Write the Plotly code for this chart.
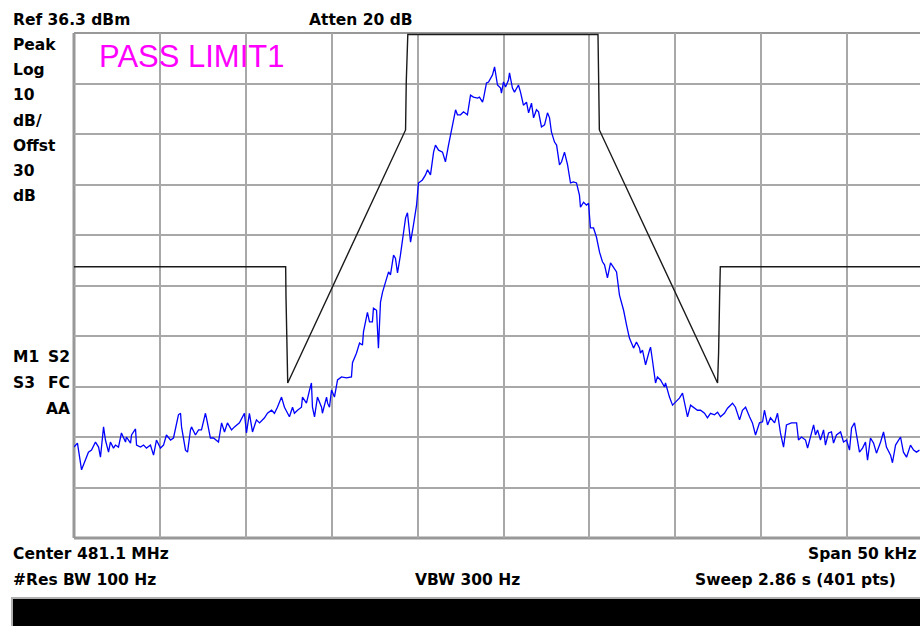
import plotly.graph_objects as go

# ---- Data (offset from centre 481.1 MHz, kHz ; level dBm) ----
trace_freq = [
    -25.00, -24.80, -24.56, -24.33, -24.16, -23.98, -23.75, -23.57, -23.46, -23.28,
    -23.17, -22.99, -22.88, -22.70, -22.59, -22.41, -22.24, -22.00, -21.95, -21.71,
    -21.65, -21.42, -21.36, -21.13, -20.95, -20.78, -20.55, -20.37, -20.20, -19.97,
    -19.79, -19.62, -19.38, -19.21, -19.09, -18.92, -18.80, -18.74, -18.51, -18.39,
    -18.22, -18.16, -17.93, -17.75, -17.58, -17.35, -17.29, -17.06, -16.88,
    -16.59, -16.41, -16.24, -16.07, -15.83, -15.66, -15.37, -15.08, -14.96, -14.79,
    -14.61, -14.38, -14.20, -13.91, -13.74, -13.50, -13.33, -13.16, -12.92, -12.75,
    -12.57, -12.46, -12.28, -12.17, -11.99, -11.76, -11.70, -11.47, -11.29, -11.18,
    -11.12, -11.00, -10.83, -10.59, -10.54, -10.30, -10.24, -10.13, -10.01, -9.84,
    -9.66, -9.43, -9.14, -8.85, -8.79, -8.56, -8.38,
    -8.21, -8.15, -7.92, -7.80, -7.63, -7.57, -7.39, -7.28, -7.16, -7.04,
    -6.87, -6.69, -6.58, -6.40, -6.29, -6.17, -6.00, -5.88, -5.70, -5.59,
    -5.53, -5.41, -5.24, -5.06, -4.95, -4.72, -4.54, -4.42, -4.25, -4.07,
    -3.96, -3.78, -3.55, -3.38, -3.20, -2.97, -2.79, -2.68, -2.50, -2.33,
    -2.10, -1.92, -1.75, -1.51, -1.40, -1.22, -1.16, -0.99, -0.87, -0.64,
    -0.52, -0.35, -0.17, -0.12,
    0.00, 0.12, 0.29, 0.35, 0.52, 0.64, 0.87, 0.99, 1.16, 1.34,
    1.46, 1.63, 1.75, 1.92, 2.04, 2.21, 2.39, 2.56, 2.68, 2.79,
    2.97, 3.09, 3.26, 3.38, 3.55, 3.73, 3.90, 4.07, 4.25, 4.42,
    4.48, 4.66, 4.83, 4.95, 5.06, 5.24, 5.41, 5.59, 5.76, 5.88,
    6.05, 6.23, 6.40, 6.58, 6.75, 6.99, 7.16, 7.33, 7.57, 7.74, 7.92,
    7.97, 8.09, 8.27, 8.50, 8.56, 8.67, 8.85, 8.96, 9.14, 9.37,
    9.43, 9.66, 9.84, 10.01, 10.24, 10.42, 10.54, 10.71, 10.89, 11.12,
    11.29, 11.47, 11.70, 11.87, 12.05, 12.28, 12.46, 12.63, 12.86, 13.04,
    13.33, 13.50, 13.74, 13.91, 14.09, 14.32, 14.49, 14.67, 14.90, 15.08,
    15.19, 15.37, 15.54, 15.78, 15.95, 16.12,
    16.18, 16.30, 16.47, 16.76, 17.06, 17.17, 17.35, 17.58, 17.70, 17.87,
    18.05, 18.16, 18.28, 18.45, 18.63, 18.74, 18.92, 19.09, 19.21, 19.38,
    19.62, 19.79, 19.97, 20.14, 20.26, 20.43, 20.55, 20.72, 20.90, 21.07,
    21.19, 21.36, 21.54, 21.71, 21.95, 22.12, 22.29, 22.53, 22.64, 22.82,
    23.11, 23.28, 23.46, 23.69, 23.87, 24.04, 24.21,
]
trace_level = [
    -45.7, -44.9, -50.2, -48.3, -46.7, -46.3, -44.7, -45.7, -47.7, -41.7,
    -44.3, -46.7, -44.7, -45.9, -45.3, -45.7, -42.9, -44.7, -43.7, -44.9,
    -43.3, -42.1, -45.3, -45.7, -45.3, -45.9, -45.3, -47.3, -44.3, -45.9,
    -45.3, -43.3, -44.3, -43.9, -41.9, -39.3, -39.0, -41.7, -46.3, -46.7,
    -42.3, -41.7, -43.3, -42.3, -42.3, -39.0, -39.9, -43.9, -43.9,
    -44.7, -40.9, -42.7, -40.9, -42.3, -41.7, -40.9, -39.0, -42.9, -39.0,
    -42.7, -40.3, -40.9, -39.9, -39.0, -38.4, -39.0, -37.8, -35.8, -37.8,
    -39.0, -39.7, -37.8, -39.0, -38.4, -37.8, -35.8, -37.0, -34.4, -33.0,
    -37.8, -39.7, -35.8, -37.8, -39.0, -35.8, -37.0, -37.8, -34.4, -35.8,
    -32.4, -31.8, -32.0, -31.8, -29.0, -27.1, -25.1,
    -25.5, -22.9, -19.0, -20.9, -20.9, -18.2, -18.6, -26.1, -17.0, -15.0,
    -13.0, -11.0, -11.6, -7.7, -8.3, -11.2, -7.7, -5.1, -0.3, 0.7,
    -1.7, -5.1, -1.7, 2.2, 6.6, 7.2, 8.2, 9.2, 8.2, 12.7,
    14.1, 13.1, 12.7, 10.8, 14.1, 17.7, 21.1, 20.1, 20.1, 20.7,
    20.1, 24.0, 23.6, 23.4, 23.6, 22.6, 23.4, 26.4, 26.6, 28.0,
    29.6, 26.0, 25.4, 24.4,
    26.6, 25.6, 27.0, 28.4, 25.4, 24.6, 26.0, 24.6, 22.0, 22.6,
    20.5, 22.4, 19.5, 21.1, 20.7, 17.7, 18.1, 20.5, 19.5, 16.7,
    14.7, 14.1, 10.2, 10.8, 12.7, 10.2, 6.6, 6.8, 6.6, 4.2,
    1.8, 2.8, 2.2, 2.6, -2.3, -2.3, -4.1, -7.1, -9.0, -9.6,
    -12.2, -9.2, -10.2, -11.0, -15.6, -18.6, -21.5, -24.1, -26.1, -24.9, -26.1,
    -27.1, -26.5, -29.4, -26.5, -25.9, -28.5, -33.0, -31.8, -32.4, -33.8,
    -33.0, -35.8, -37.4, -36.8, -36.0, -35.0, -37.0, -39.7, -37.4, -38.0,
    -38.4, -38.4, -39.0, -39.9, -39.0, -39.3, -38.8, -39.7, -39.0, -38.0,
    -37.0, -37.8, -40.3, -38.4, -37.8, -39.7, -40.9, -43.3, -40.9, -40.7,
    -38.4, -41.3, -39.9, -40.9, -39.0, -42.9,
    -43.7, -45.7, -41.3, -40.9, -40.9, -44.3, -43.7, -44.3, -45.9, -43.7,
    -41.3, -43.3, -42.3, -44.3, -42.3, -45.3, -42.9, -42.7, -44.9, -43.3,
    -42.7, -44.7, -44.3, -46.3, -41.9, -40.9, -43.7, -46.7, -45.9, -44.7,
    -48.3, -43.9, -44.9, -46.9, -44.7, -42.7, -45.7, -47.3, -48.8, -45.3,
    -43.7, -46.7, -47.7, -45.3, -46.3, -46.7, -46.3,
]

limit_freq = [-25, -12.68, -12.66, -12.62, -12.56, -5.70, -5.66, -5.57,
              5.50, 5.54, 5.58, 12.46, 12.52, 12.58, 12.62, 25]
limit_level = [-10, -10, -16.0, -27.1, -33.0, 17.1, 26.6, 36.0,
               36.0, 26.6, 17.1, -33.0, -27.1, -16.0, -10, -10]

ref_level = 36.3
db_per_div = 10
span_khz = 50

left_labels = ["Peak", "Log", "10", "dB/", "Offst", "30", "dB"]

# ---- Layout geometry (page pixels) ----
W, H = 920, 626
L, T, B = 74, 33, 538
PW, PH = W - L, B - T
div_px = 85.9
x_max = -span_khz / 2 + PW / div_px * (span_khz / 10)


def px(p):
    return (p - L) / PW


def py(p):
    return (B - p) / PH


fig = go.Figure()
fig.add_trace(go.Scatter(x=limit_freq, y=limit_level, mode="lines",
                         line=dict(color="#1a1a1a", width=1.4), hoverinfo="skip"))
fig.add_trace(go.Scatter(x=trace_freq, y=trace_level, mode="lines",
                         line=dict(color="#0000ff", width=1.3), hoverinfo="skip"))

grid = "#a8a8a8"
fig.update_xaxes(range=[-span_khz / 2, x_max], dtick=span_khz / 10, tick0=-span_khz / 2,
                 showgrid=True, gridcolor=grid, gridwidth=2, zeroline=False,
                 showticklabels=False, ticks="", showline=False, fixedrange=True)
fig.update_yaxes(range=[ref_level - 10 * db_per_div, ref_level], dtick=db_per_div,
                 tick0=ref_level, showgrid=True, gridcolor=grid, gridwidth=2,
                 zeroline=False, showticklabels=False, ticks="", showline=False,
                 fixedrange=True)

frame = "#989898"
shapes = [
    dict(type="line", xref="paper", yref="paper", x0=0, x1=1, y0=1, y1=1,
         line=dict(color=frame, width=2), layer="below"),
    dict(type="line", xref="paper", yref="paper", x0=0, x1=1, y0=0, y1=0,
         line=dict(color=frame, width=3), layer="below"),
    dict(type="line", xref="paper", yref="paper", x0=0, x1=0, y0=0, y1=1,
         line=dict(color=frame, width=3), layer="below"),
    dict(type="rect", xref="paper", yref="paper", x0=px(12), x1=px(924),
         y0=py(630), y1=py(598), fillcolor="#000000",
         line=dict(color="#b0b0b0", width=2)),
]

bold = dict(family="DejaVu Sans", size=15.5, color="#000000", weight="bold")
ann = []


def label(text, x, y, anchor="left"):
    ann.append(dict(text=text, x=px(x), y=py(y), xref="paper", yref="paper",
                    xanchor=anchor, yanchor="middle", showarrow=False, font=bold))


label(f"Ref {ref_level} dBm", 11, 20)
label("Atten 20 dB", 307, 20)
for i, t in enumerate(left_labels):
    label(t, 11, 45 + i * 25.2)
label("M1", 11, 357)
label("S2", 72, 357, "right")
label("S3", 11, 383)
label("FC", 72, 383, "right")
label("AA", 72, 409, "right")
label("Center 481.1 MHz", 11, 554)
label("Span 50 kHz", 918, 554, "right")
label("#Res BW 100 Hz", 11, 580)
label("VBW 300 Hz", 467, 580, "center")
label("Sweep 2.86 s (401 pts)", 898, 580, "right")
ann.append(dict(text="PASS LIMIT1", x=px(97), y=py(56), xref="paper", yref="paper",
                xanchor="left", yanchor="middle", showarrow=False,
                font=dict(family="Liberation Sans", size=31, color="#ff00ff")))

fig.update_layout(width=W, height=H,
                  margin=dict(l=L, r=0, t=T, b=H - B, pad=0),
                  paper_bgcolor="#ffffff", plot_bgcolor="#ffffff", showlegend=False,
                  shapes=shapes, annotations=ann)

fig.write_html("out.html", config={"displayModeBar": False},
               post_script="document.body.style.margin='0';"
                           "document.body.style.overflow='hidden';"
                           "document.documentElement.style.overflow='hidden';")
